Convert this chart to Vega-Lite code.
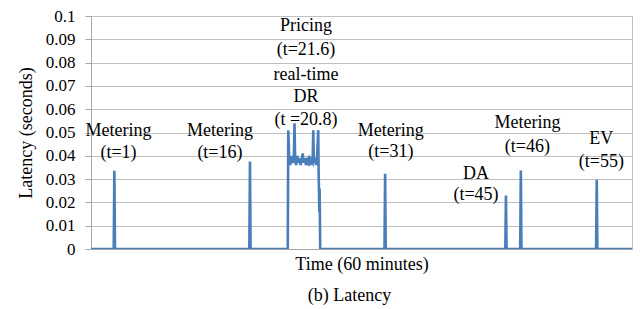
{
  "$schema": "https://vega.github.io/schema/vega-lite/v6.json",
  "width": 541,
  "height": 233,
  "autosize": {"type": "none"},
  "padding": {"left": 91, "top": 16, "right": 8, "bottom": 60},
  "config": {
    "font": "Times New Roman",
    "view": {"stroke": "#bfbfbf", "strokeWidth": 1}
  },
  "title": {
    "text": "(b) Latency",
    "orient": "bottom",
    "anchor": "middle",
    "font": "Times New Roman",
    "fontSize": 18,
    "fontWeight": "normal",
    "color": "#000000",
    "offset": 14,
    "dx": -12
  },
  "datasets": {
    "series": [
      {"t": 0, "v": 0},
      {"t": 2.52, "v": 0},
      {"t": 2.59, "v": 0.0336},
      {"t": 2.66, "v": 0},
      {"t": 17.56, "v": 0},
      {"t": 17.63, "v": 0.0376},
      {"t": 17.7, "v": 0},
      {"t": 21.82, "v": 0},
      {"t": 21.88, "v": 0.051},
      {"t": 21.98, "v": 0.039},
      {"t": 22.1, "v": 0.036},
      {"t": 22.22, "v": 0.04},
      {"t": 22.36, "v": 0.037},
      {"t": 22.5, "v": 0.039},
      {"t": 22.57, "v": 0.054},
      {"t": 22.64, "v": 0.038},
      {"t": 22.76, "v": 0.036},
      {"t": 22.88, "v": 0.04},
      {"t": 23.0, "v": 0.037},
      {"t": 23.12, "v": 0.039},
      {"t": 23.24, "v": 0.036},
      {"t": 23.36, "v": 0.038},
      {"t": 23.48, "v": 0.041},
      {"t": 23.6, "v": 0.037},
      {"t": 23.72, "v": 0.039},
      {"t": 23.84, "v": 0.036},
      {"t": 23.96, "v": 0.038},
      {"t": 24.08, "v": 0.037},
      {"t": 24.2, "v": 0.04},
      {"t": 24.32, "v": 0.036},
      {"t": 24.44, "v": 0.038},
      {"t": 24.58, "v": 0.037},
      {"t": 24.65, "v": 0.051},
      {"t": 24.72, "v": 0.037},
      {"t": 24.84, "v": 0.039},
      {"t": 24.96, "v": 0.036},
      {"t": 25.08, "v": 0.04},
      {"t": 25.2, "v": 0.051},
      {"t": 25.25, "v": 0.032},
      {"t": 25.29, "v": 0.024},
      {"t": 25.32, "v": 0.016},
      {"t": 25.35, "v": 0.026},
      {"t": 25.38, "v": 0.017},
      {"t": 25.42, "v": 0},
      {"t": 32.55, "v": 0},
      {"t": 32.62, "v": 0.0323},
      {"t": 32.69, "v": 0},
      {"t": 45.95, "v": 0},
      {"t": 46.02, "v": 0.023},
      {"t": 46.09, "v": 0},
      {"t": 47.6, "v": 0},
      {"t": 47.67, "v": 0.0337},
      {"t": 47.74, "v": 0},
      {"t": 56.02, "v": 0},
      {"t": 56.09, "v": 0.0297},
      {"t": 56.16, "v": 0},
      {"t": 60, "v": 0}
    ],
    "notes": [
      {"t": 3.05, "v": 0.0506, "label": "Metering"},
      {"t": 3.05, "v": 0.0412, "label": "(t=1)"},
      {"t": 14.3, "v": 0.0506, "label": "Metering"},
      {"t": 14.3, "v": 0.0412, "label": "(t=16)"},
      {"t": 23.84, "v": 0.0958, "label": "Pricing"},
      {"t": 23.84, "v": 0.0852, "label": "(t=21.6)"},
      {"t": 23.84, "v": 0.0748, "label": "real-time"},
      {"t": 23.84, "v": 0.0654, "label": "DR"},
      {"t": 23.84, "v": 0.0555, "label": "(t =20.8)"},
      {"t": 33.25, "v": 0.0506, "label": "Metering"},
      {"t": 33.25, "v": 0.0415, "label": "(t=31)"},
      {"t": 42.7, "v": 0.0323, "label": "DA"},
      {"t": 42.7, "v": 0.0232, "label": "(t=45)"},
      {"t": 48.4, "v": 0.0539, "label": "Metering"},
      {"t": 48.4, "v": 0.0438, "label": "(t=46)"},
      {"t": 56.6, "v": 0.047, "label": "EV"},
      {"t": 56.6, "v": 0.0374, "label": "(t=55)"}
    ]
  },
  "encoding": {
    "x": {
      "field": "t",
      "type": "quantitative",
      "scale": {"domain": [0, 60], "nice": false, "zero": false},
      "axis": {
        "title": "Time (60 minutes)",
        "titleFont": "Times New Roman",
        "titleFontSize": 18,
        "titleFontWeight": "normal",
        "titleColor": "#000000",
        "titlePadding": 6,
        "labels": false,
        "ticks": false,
        "grid": false,
        "domainColor": "#a6a6a6"
      }
    },
    "y": {
      "field": "v",
      "type": "quantitative",
      "scale": {"domain": [0, 0.1], "nice": false},
      "axis": {
        "title": "Latency (seconds)",
        "titleFont": "Times New Roman",
        "titleFontSize": 18,
        "titleFontWeight": "normal",
        "titleColor": "#000000",
        "titlePadding": 10,
        "values": [0, 0.01, 0.02, 0.03, 0.04, 0.05, 0.06, 0.07, 0.08, 0.09, 0.1],
        "format": ".2~f",
        "labelFont": "Times New Roman",
        "labelFontSize": 17,
        "labelColor": "#000000",
        "labelPadding": 10,
        "labelOverlap": false,
        "labelFlush": false,
        "tickSize": 6,
        "tickColor": "#a6a6a6",
        "domainColor": "#a6a6a6",
        "gridColor": "#bfbfbf",
        "grid": true
      }
    }
  },
  "layer": [
    {
      "data": {"name": "series"},
      "mark": {"type": "line", "color": "#4a7ebb", "strokeWidth": 2.6, "clip": true}
    },
    {
      "data": {"name": "notes"},
      "mark": {"type": "text", "font": "Times New Roman", "fontSize": 18, "color": "#000000", "align": "center", "baseline": "middle"},
      "encoding": {
        "text": {"field": "label"}
      }
    }
  ]
}
